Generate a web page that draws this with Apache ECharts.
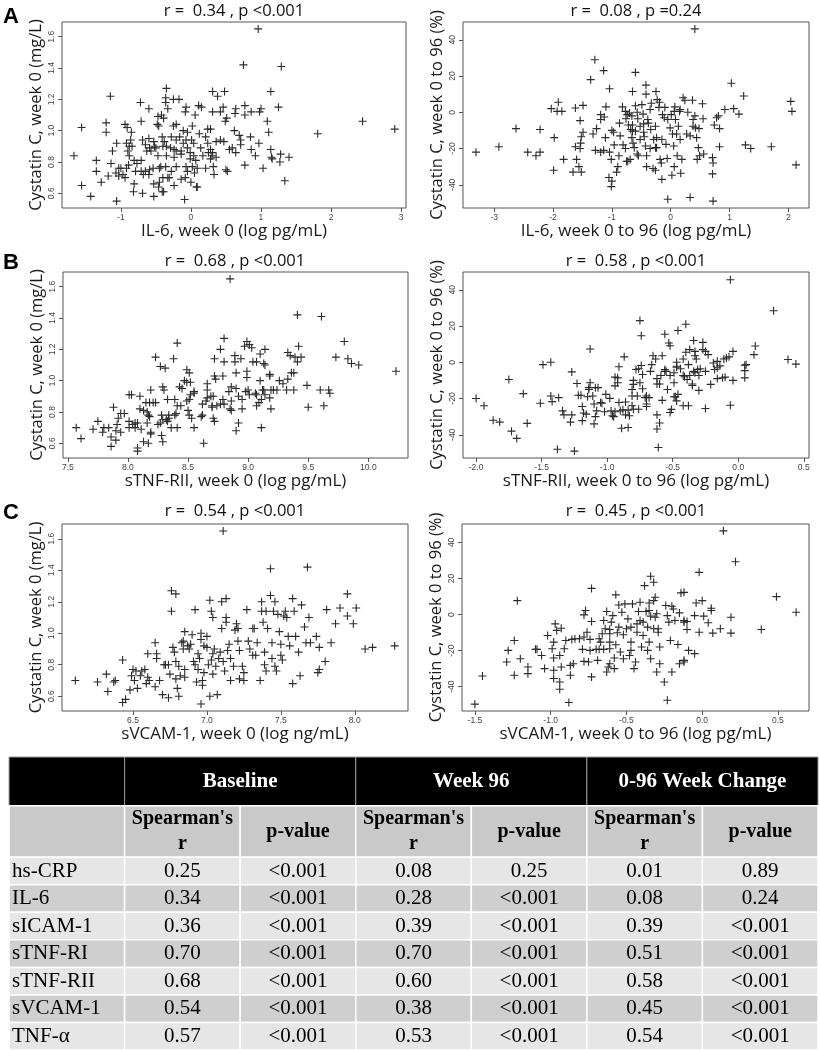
<!DOCTYPE html>
<html><head><meta charset="utf-8">
<script src="https://cdn.jsdelivr.net/npm/echarts@6/dist/echarts.min.js"></script>
<style>html,body{margin:0;padding:0;background:#fff}#c{width:820px;height:1050px}</style>
</head><body><div id="c"></div>
<script>
// ---------------- DATA ----------------
// Panel A: IL-6
const il6BaselinePts = [[0.96,1.65],[0.75,1.42],[1.29,1.41],[1.14,1.25],[-1.15,1.22],[-0.35,1.27],[0.31,1.25],[0.38,1.22],[0.48,1.25],[-0.36,1.21],[-0.25,1.20],[-0.17,1.20],[-0.72,1.18],[-0.60,1.14],[-0.36,1.18],[-0.33,1.14],[-0.07,1.15],[-0.08,1.12],[0.11,1.16],[0.15,1.15],[0.06,1.10],[0.31,1.12],[0.42,1.12],[0.46,1.15],[0.51,1.08],[0.49,1.06],[0.64,1.14],[0.63,1.11],[0.77,1.16],[0.77,1.10],[0.86,1.12],[0.98,1.12],[1.00,1.14],[1.25,1.15],[1.09,1.06],[1.11,0.99],[-0.71,1.06],[-0.47,1.09],[-0.42,1.10],[-0.39,1.08],[-0.48,1.04],[-0.46,1.03],[-1.21,1.05],[-1.21,0.99],[-1.56,1.02],[-0.94,1.04],[-0.91,1.02],[-0.85,0.99],[-0.25,1.03],[-0.21,1.04],[-0.11,1.00],[-0.05,0.99],[0.02,1.03],[0.24,1.01],[0.28,1.01],[0.62,1.00],[0.69,0.97],[0.71,0.94],[0.85,0.96],[0.97,0.92],[0.59,0.89],[0.64,0.86],[0.71,0.91],[0.86,0.88],[0.92,0.84],[1.14,0.88],[1.15,0.83],[1.16,0.82],[1.28,0.85],[1.27,0.80],[1.40,0.83],[1.03,0.76],[0.77,0.78],[1.34,0.68],[1.81,0.98],[2.45,1.06],[2.91,1.01],[-1.67,0.84],[-1.35,0.81],[-1.35,0.74],[-1.56,0.65],[-1.43,0.58],[-1.06,0.55],[-1.28,0.67],[-1.18,0.71],[-1.14,0.79],[-1.12,0.87],[-1.06,0.92],[-0.92,0.92],[-0.88,0.90],[-0.84,0.90],[-0.90,0.87],[-0.88,0.84],[-0.86,0.94],[-1.03,0.76],[-1.00,0.76],[-0.92,0.76],[-0.97,0.72],[-1.07,0.73],[-1.03,0.71],[-0.94,0.70],[-0.89,0.78],[-0.81,0.81],[-0.77,0.79],[-0.71,0.81],[-0.79,0.74],[-0.71,0.74],[-0.65,0.74],[-0.68,0.72],[-0.59,0.75],[-0.54,0.76],[-0.60,0.72],[-0.81,0.66],[-0.82,0.61],[-0.69,0.60],[-0.53,0.58],[-0.41,0.61],[-0.39,0.61],[-0.53,0.66],[-0.45,0.67],[-0.46,0.64],[-0.40,0.70],[-0.33,0.70],[-0.31,0.70],[-0.24,0.65],[-0.14,0.69],[-0.08,0.70],[0.00,0.67],[0.08,0.64],[0.09,0.64],[-0.09,0.56],[-0.69,0.94],[-0.65,0.91],[-0.60,0.95],[-0.53,0.93],[-0.52,0.90],[-0.59,0.89],[-0.63,0.87],[-0.57,0.87],[-0.50,0.89],[-0.47,0.84],[-0.41,0.96],[-0.38,0.93],[-0.35,0.90],[-0.35,0.84],[-0.29,0.89],[-0.28,0.96],[-0.24,0.88],[-0.21,0.87],[-0.24,0.83],[-0.21,0.94],[-0.16,0.96],[-0.11,0.92],[-0.07,0.94],[-0.05,0.89],[0.01,0.94],[0.04,0.92],[-0.01,0.86],[0.04,0.84],[0.07,0.81],[-0.01,0.82],[0.02,0.77],[-0.07,0.77],[0.05,0.73],[-0.21,0.77],[-0.28,0.74],[-0.36,0.77],[-0.45,0.76],[-0.43,0.77],[0.12,0.98],[0.14,0.89],[0.17,0.84],[0.21,0.96],[0.24,0.92],[0.28,0.88],[0.30,0.84],[0.25,0.86],[0.21,0.76],[0.32,0.77],[0.33,0.72],[0.28,0.82],[0.36,0.93],[0.42,0.94],[0.47,0.93],[0.50,0.75],[0.52,0.74],[0.55,0.88],[0.31,0.86],[0.36,0.83],[0.09,0.76],[-0.05,0.74],[-0.14,0.85],[-0.14,0.87],[-0.40,0.90]];
const il6ChangePts = [[0.41,46],[-1.29,29],[-1.14,23],[-1.36,18],[-0.60,22],[-1.04,13],[1.03,16],[1.24,9],[2.04,6],[2.06,0.5],[2.13,-29],[1.71,-19],[1.27,-18],[1.36,-20],[0.92,1.5],[1.07,2],[1.16,-1],[0.81,-2],[0.78,-3],[0.83,-9],[0.74,-7],[0.83,-19],[0.71,-25],[0.72,-28],[0.71,-34],[0.72,-49],[0.33,-47],[-0.05,-48],[-2.63,-9],[-2.22,-9.5],[-2.92,-19],[-3.31,-22],[-2.43,-22],[-2.29,-24],[-2.22,-22],[-2.03,2],[-1.91,5.5],[-1.93,0.5],[-1.85,0.5],[-1.98,-14],[-1.99,-32],[-1.82,-26],[-1.62,2.4],[-1.49,3.8],[-1.54,-4.6],[-1.49,-11],[-1.52,-13.5],[-1.53,-17],[-1.62,-19],[-1.54,-20],[-1.60,-26],[-1.56,-30],[-1.66,-33],[-1.52,-33],[-1.32,-12],[-1.26,-9],[-1.28,-21],[-1.19,-4],[-1.19,-1.3],[-1.13,-2.6],[-1.19,-22],[-1.11,-14],[-1.10,3],[-1.04,-22],[-1.01,-26],[-1.00,-10],[-0.97,-11],[-0.96,-18],[-1.05,-36],[-1.00,-38],[-1.01,-41],[-0.92,-33],[-0.90,-30],[-0.88,-24],[-0.86,-13],[-0.87,-6],[-0.82,3],[-0.77,0.5],[-0.76,-3.6],[-0.74,-1.3],[-0.81,-18],[-0.77,-20],[-0.75,-27],[-0.73,-27],[-0.69,-26],[-0.72,-7],[-0.68,-9.5],[-0.70,-0.4],[-0.66,-2],[-0.65,11.5],[-0.65,-7],[-0.65,-10.4],[-0.66,-14],[-0.64,-17],[-0.62,-19.5],[-0.60,3.6],[-0.57,0],[-0.56,-3.6],[-0.57,-23],[-0.55,-24],[-0.52,-7.7],[-0.49,4.2],[-0.47,-1],[-0.46,-11],[-0.45,-13.5],[-0.43,-18.6],[-0.42,15],[-0.42,10],[-0.39,-4],[-0.38,-6],[-0.41,-24],[-0.41,-30],[-0.35,-20],[-0.34,-9.5],[-0.33,5],[-0.30,-31],[-0.26,-32],[-0.29,-15],[-0.26,-7.7],[-0.25,11.5],[-0.23,7],[-0.20,2.7],[-0.19,5.5],[-0.24,-19.5],[-0.18,-26],[-0.16,-28],[-0.15,-15],[-0.15,-37],[-0.14,-1.3],[-0.11,-3],[-0.08,-17.7],[-0.06,-25.5],[-0.05,-4],[-0.01,-8.6],[0.01,-1.3],[0.02,-34.7],[0.03,-12],[0.05,-18.6],[0.06,-30],[0.06,0.5],[0.07,3],[0.08,-4],[0.10,-12],[0.11,-24],[0.15,0.5],[0.13,-7.7],[0.16,-15],[0.17,-33.6],[0.19,-26],[0.21,8],[0.24,6.6],[0.29,0],[0.27,-12],[0.33,-13],[0.37,6.6],[0.38,-4],[0.41,-2],[0.42,-8.6],[0.44,-14],[0.47,-19.5],[0.45,-26],[0.49,-24],[0.54,4.7],[0.55,-3.6],[0.56,-23],[0.48,-9],[0.38,-7.7],[-1.14,-21],[-0.46,-6.4],[-0.35,1.5],[-0.10,2.7],[0.16,1.5],[-0.24,-14],[-0.60,-10.4],[-0.52,-15],[-0.26,-19.5]];
// Panel B: sTNF-RII
const tnfr2BaselinePts = [[8.85,1.65],[9.41,1.42],[9.61,1.41],[9.80,1.25],[8.80,1.27],[8.41,1.24],[8.99,1.25],[9.01,1.23],[8.97,1.22],[9.03,1.21],[9.14,1.20],[9.10,1.17],[8.77,1.20],[8.23,1.15],[8.38,1.14],[8.27,1.09],[8.31,1.08],[8.72,1.14],[8.80,1.12],[8.89,1.16],[8.89,1.12],[8.94,1.14],[9.04,1.12],[9.07,1.12],[9.13,1.11],[9.14,1.10],[9.33,1.18],[9.35,1.16],[9.39,1.15],[9.42,1.22],[9.41,1.12],[9.44,1.15],[9.73,1.15],[9.83,1.14],[9.86,1.11],[9.92,1.10],[10.23,1.06],[8.49,1.07],[8.51,1.05],[8.72,1.03],[8.73,1.01],[8.79,1.03],[8.90,1.05],[8.99,1.06],[8.99,1.02],[9.10,1.00],[9.18,1.04],[9.18,1.03],[9.26,1.00],[9.29,0.98],[9.33,1.01],[9.36,1.05],[9.38,1.05],[9.32,0.94],[9.38,0.94],[9.49,0.97],[9.60,0.94],[9.67,0.94],[9.68,0.92],[9.50,0.83],[9.63,0.84],[8.47,1.00],[8.49,0.99],[8.52,0.99],[8.43,0.96],[8.45,0.95],[8.29,0.96],[8.30,0.94],[8.19,0.94],[8.03,0.91],[8.01,0.91],[8.10,0.90],[7.88,0.83],[7.75,0.74],[7.57,0.70],[7.61,0.63],[7.71,0.69],[7.79,0.67],[7.80,0.70],[7.84,0.70],[7.86,0.64],[7.90,0.68],[7.91,0.72],[7.92,0.76],[7.94,0.79],[7.97,0.79],[7.94,0.67],[7.90,0.62],[7.86,0.58],[8.01,0.74],[8.01,0.70],[8.04,0.72],[8.06,0.73],[8.08,0.73],[8.06,0.70],[8.11,0.69],[8.10,0.82],[8.13,0.81],[8.16,0.80],[8.18,0.86],[8.15,0.86],[8.21,0.86],[8.23,0.86],[8.17,0.78],[8.18,0.77],[8.16,0.73],[8.19,0.67],[8.19,0.66],[8.17,0.60],[8.13,0.61],[8.08,0.57],[8.08,0.55],[8.28,0.65],[8.29,0.61],[8.25,0.72],[8.27,0.73],[8.29,0.75],[8.32,0.75],[8.33,0.74],[8.34,0.76],[8.36,0.70],[8.41,0.70],[8.28,0.78],[8.34,0.78],[8.39,0.78],[8.40,0.79],[8.33,0.88],[8.39,0.88],[8.41,0.84],[8.44,0.84],[8.49,0.87],[8.51,0.88],[8.52,0.91],[8.55,0.93],[8.55,0.92],[8.50,0.81],[8.51,0.78],[8.53,0.76],[8.55,0.70],[8.63,0.60],[8.61,0.77],[8.62,0.78],[8.62,0.85],[8.65,0.87],[8.66,0.89],[8.66,0.94],[8.66,0.98],[8.69,0.90],[8.71,0.90],[8.70,0.84],[8.70,0.83],[8.72,0.74],[8.71,0.76],[8.74,0.84],[8.77,0.85],[8.79,0.88],[8.80,0.85],[8.84,0.93],[8.86,0.96],[8.90,0.95],[8.86,0.87],[8.85,0.82],[8.86,0.81],[8.92,0.73],[8.90,0.68],[8.95,0.82],[8.95,0.88],[8.98,0.93],[9.00,0.94],[9.01,0.91],[9.06,0.92],[9.07,0.91],[9.07,0.84],[9.09,0.86],[9.11,0.88],[9.12,0.94],[9.13,0.94],[9.14,0.91],[9.11,0.70],[9.19,0.94],[9.18,0.89],[9.19,0.82],[9.21,0.94],[9.24,0.94],[8.92,0.90]];
const tnfr2ChangePts = [[-0.06,45.5],[0.27,28.4],[-0.75,23],[-0.74,14.6],[-0.40,21],[-0.46,17.5],[-0.56,15.5],[-0.53,10.6],[-0.52,9.1],[-0.34,12],[-0.27,11],[-0.37,7],[-0.33,6],[-0.27,7],[-0.25,6],[-0.33,3.6],[-0.32,1.8],[-0.40,5.5],[-0.42,1.8],[-0.47,0],[-0.47,-2.7],[-0.56,-4],[-0.55,-5],[-0.52,-7.3],[-0.49,-11.3],[-0.44,-3.6],[-0.42,-7.3],[-0.41,-8],[-0.37,-7.3],[-0.34,-5],[-0.33,-5.8],[-0.31,-4],[-0.30,-7.3],[-0.29,-3.6],[-0.25,-5],[-0.35,-12],[-0.30,-15.5],[-0.25,-25.5],[-0.16,0.5],[-0.16,-3],[-0.14,-2],[-0.11,1.8],[-0.09,2.4],[-0.07,3],[-0.04,6],[-0.16,-9],[-0.12,-8.6],[-0.10,-8.2],[-0.04,-10],[-0.06,-23.7],[0.05,-4.6],[0.05,-1.6],[0.05,-8.6],[0.06,-1.3],[0.12,4.2],[0.13,9],[0.38,1.5],[0.44,-1],[-2.00,-20],[-1.94,-24],[-1.87,-32],[-1.82,-33],[-1.73,-38],[-1.69,-42],[-1.75,-9.5],[-1.64,-17.3],[-1.61,-33.7],[-1.51,-22.6],[-1.49,-1.3],[-1.43,0],[-1.43,-18.6],[-1.42,-21.7],[-1.37,-19.5],[-1.38,-48],[-1.25,-49],[-1.34,-26.8],[-1.33,-29],[-1.27,-29],[-1.28,-33],[-1.27,-5.3],[-1.23,-11.7],[-1.22,-18.2],[-1.20,-18.2],[-1.19,-24.4],[-1.18,-28],[-1.19,-32.2],[-1.15,-19],[-1.16,-28.6],[-1.13,7.3],[-1.14,-14],[-1.14,-15],[-1.13,-11.3],[-1.11,-18.6],[-1.09,-14],[-1.07,-14],[-1.10,-23],[-1.10,-34],[-1.09,-30],[-1.08,-26.8],[-1.05,-22.2],[-1.04,-22.6],[-1.01,-17.7],[-0.98,-19.9],[-1.02,-27.3],[-0.97,-26.8],[-0.96,-29.5],[-0.95,-30],[-0.94,-27.3],[-0.90,-26.8],[-0.91,-22.2],[-0.88,-26.2],[-0.94,-13],[-0.92,-11.3],[-0.87,3],[-0.91,-2.5],[-0.94,-8.2],[-0.92,-8.6],[-0.86,-29],[-0.83,-29.5],[-0.89,-36.4],[-0.84,-36],[-0.86,-21.9],[-0.84,-26.4],[-0.81,-24],[-0.80,-25.9],[-0.81,-18.6],[-0.81,-15],[-0.80,-10],[-0.78,-4],[-0.76,-3.6],[-0.74,-1.8],[-0.75,-11.3],[-0.73,-14.6],[-0.71,-19.5],[-0.70,-18.6],[-0.68,-19.5],[-0.70,-23],[-0.67,-5],[-0.66,-1.3],[-0.65,3.6],[-0.63,1.8],[-0.62,-9],[-0.62,-12],[-0.60,-12],[-0.62,-29],[-0.62,-36.8],[-0.60,-33.5],[-0.61,-47],[-0.58,3.6],[-0.58,-21],[-0.56,-5],[-0.54,-15],[-0.52,-27.7],[-0.51,-26],[-0.49,-19],[-0.48,-19],[-0.47,-21.3],[-0.46,-17.7],[-0.47,-2.2],[-0.42,-24],[-0.38,-24],[-0.35,-12.8],[-0.39,-9.5],[-0.19,-0.4],[-0.18,-4],[-0.21,-12.2],[-0.23,4.2],[-0.38,-1.3],[-0.49,-5.8],[-0.59,-7.3],[-0.73,-6.7],[-0.80,-12.2],[-0.77,-18.6],[-0.70,-24.4],[-0.76,-25.9]];
// Panel C: sVCAM-1
const vcamBaselinePts = [[7.11,1.65],[7.43,1.41],[7.68,1.42],[6.11,0.70],[6.26,0.69],[6.32,0.74],[6.33,0.63],[6.37,0.69],[6.38,0.70],[6.43,0.83],[6.43,0.56],[6.45,0.58],[6.48,0.64],[6.49,0.73],[6.50,0.77],[6.51,0.70],[6.52,0.76],[6.53,0.65],[6.55,0.73],[6.56,0.76],[6.58,0.77],[6.59,0.68],[6.60,0.72],[6.61,0.70],[6.60,0.87],[6.65,0.94],[6.65,0.66],[6.66,0.87],[6.66,0.84],[6.68,0.70],[6.71,0.80],[6.72,0.80],[6.74,0.80],[6.70,0.61],[6.74,0.59],[6.75,0.74],[6.76,1.27],[6.79,1.25],[6.76,1.14],[6.77,0.91],[6.78,0.88],[6.79,0.82],[6.79,0.71],[6.80,0.65],[6.81,0.79],[6.82,0.73],[6.81,0.60],[6.83,0.94],[6.84,0.95],[6.85,1.01],[6.84,0.90],[6.85,0.77],[6.85,0.72],[6.87,0.92],[6.88,0.90],[6.89,0.93],[6.90,0.99],[6.92,1.15],[6.91,0.82],[6.92,0.80],[6.93,0.69],[6.94,0.77],[6.94,0.87],[6.95,0.84],[6.96,1.00],[6.96,0.96],[6.97,0.70],[6.98,0.75],[6.98,0.92],[6.97,0.67],[6.96,0.55],[7.00,0.91],[7.00,0.98],[7.01,0.80],[7.02,1.21],[7.03,1.14],[7.04,1.10],[7.03,0.83],[7.04,0.74],[7.04,0.87],[7.02,0.60],[7.05,0.90],[7.06,0.79],[7.07,0.61],[7.08,0.84],[7.09,0.88],[7.10,1.20],[7.11,0.82],[7.12,0.76],[7.13,1.22],[7.13,1.07],[7.13,1.10],[7.10,1.03],[7.14,0.89],[7.15,0.93],[7.16,0.84],[7.16,0.70],[7.18,0.79],[7.19,1.02],[7.20,1.06],[7.21,1.03],[7.21,0.95],[7.22,0.89],[7.22,0.71],[7.24,0.79],[7.25,0.75],[7.25,0.70],[7.27,1.15],[7.28,0.95],[7.29,0.90],[7.31,0.86],[7.31,1.03],[7.32,1.03],[7.33,0.86],[7.34,0.94],[7.36,0.70],[7.37,1.20],[7.37,1.14],[7.38,1.07],[7.39,0.88],[7.39,0.80],[7.40,0.76],[7.40,1.14],[7.41,1.03],[7.44,0.94],[7.43,1.24],[7.45,1.14],[7.46,1.20],[7.44,0.84],[7.46,0.79],[7.47,0.76],[7.48,1.12],[7.49,1.01],[7.50,0.93],[7.50,0.86],[7.51,0.83],[7.52,1.11],[7.53,1.14],[7.54,1.10],[7.55,0.98],[7.56,0.92],[7.58,0.68],[7.58,1.22],[7.59,1.14],[7.60,0.98],[7.62,0.88],[7.63,0.73],[7.64,1.18],[7.66,1.04],[7.67,0.94],[7.69,1.10],[7.70,0.94],[7.74,0.98],[7.75,0.75],[7.76,0.77],[7.76,0.91],[7.80,0.82],[7.81,1.15],[7.84,0.94],[7.87,1.06],[7.90,1.16],[7.95,1.25],[7.95,1.11],[7.99,1.06],[8.01,1.16],[8.07,0.90],[8.12,0.91],[8.27,0.92]];
const vcamChangePts = [[0.14,46.4],[0.22,29.3],[-0.02,23.4],[0.49,9.9],[0.62,1.3],[0.39,-8.3],[0.19,-1.5],[0.19,-10.3],[0.12,-7.9],[0.07,-10.3],[-0.02,-9.8],[0.06,3.5],[0.06,2.2],[0.04,-4.6],[0.01,-0.9],[-0.04,6.4],[-0.05,-0.6],[-0.05,-21.7],[-0.10,-8.3],[-0.09,-19.9],[-0.10,-3.9],[-0.15,0.9],[-0.14,12],[-0.12,12.3],[-0.12,-3.3],[-0.12,-4.2],[-0.12,-25.4],[-0.12,-26.3],[-0.15,-27.3],[-0.16,-16.6],[-0.20,-31.9],[-0.18,-3.3],[-0.19,3.1],[-0.20,4.6],[-0.21,-14.4],[-0.22,-4.2],[-0.23,-47.5],[-0.24,5],[-0.23,-0.6],[-0.25,-37.4],[-0.28,-27.3],[-0.28,-18],[-0.29,-7.9],[-0.29,-9.8],[-0.31,-1.5],[-0.30,0.4],[-0.30,-31.9],[-0.31,9.6],[-0.32,17.9],[-0.32,7.7],[-0.34,21.2],[-0.35,6.4],[-0.35,2.2],[-0.34,-0.9],[-0.36,-7],[-0.35,-15.3],[-0.36,-19.9],[-0.34,-24.5],[-0.38,16],[-0.37,1.7],[-0.39,-4.2],[-0.39,-11.6],[-0.40,-18],[-0.41,6.8],[-0.42,1.7],[-0.43,-5.2],[-0.43,-9.8],[-0.44,-26.3],[-0.45,-30],[-0.46,5.9],[-0.47,-15.3],[-0.47,-19.9],[-0.48,-22.7],[-0.49,-2.4],[-0.50,-7.9],[-0.51,5.9],[-0.52,-24.5],[-0.53,1.3],[-0.54,-20.8],[-0.55,5.3],[-0.55,-7],[-0.56,-10.1],[-0.57,10.9],[-0.57,-16.8],[-0.58,-24.1],[-0.58,-30],[-0.59,-0.6],[-0.60,-4.2],[-0.61,-10.7],[-0.61,-15.3],[-0.61,-19],[-0.61,-27.3],[-0.62,-29.1],[-0.63,1.7],[-0.63,-31.9],[-0.64,-7.9],[-0.65,-19.3],[-0.65,-3.3],[-0.66,-10.7],[-0.67,-15.3],[-0.68,-13.4],[-0.68,-19.3],[-0.69,-25.4],[-0.70,-19.3],[-0.73,-3.9],[-0.73,14.5],[-0.74,-13.8],[-0.73,-34.6],[-0.74,-19.9],[-0.75,-26.3],[-0.76,-9.8],[-0.77,2.2],[-0.78,-0.2],[-0.78,-12.5],[-0.78,-26],[-0.79,-19.3],[-0.81,-13.4],[-0.84,-13.4],[-0.85,-27.3],[-0.86,-13.8],[-0.87,-28.2],[-0.87,-33.7],[-0.88,-48.8],[-0.90,-14.4],[-0.91,-19],[-0.93,-29.1],[-0.93,-7.6],[-0.94,-22.7],[-0.94,-37.4],[-0.94,-41.4],[-0.96,-8.8],[-0.97,-5.2],[-0.98,-30.9],[-0.98,-24.1],[-0.98,-35.5],[-0.98,-15.3],[-0.99,-19],[-1.02,-11.6],[-1.04,-30],[-1.06,-22.7],[-1.09,-19.3],[-1.10,-19.3],[-1.15,-29.1],[-1.15,-32.8],[-1.20,-24.5],[-1.22,7.7],[-1.24,-14.4],[-1.24,-33.7],[-1.28,-19.9],[-1.29,-26.3],[-1.45,-34.1],[-1.50,-49.7],[0.00,7.7],[-0.41,-3.3],[-0.47,-7],[-0.32,-7.9],[-0.52,-11.2],[-0.61,-8.3]];

// Tick labels
const ticksIL6Base = [-1, 0, 1, 2, 3];
const ticksIL6Change = [-3, -2, -1, 0, 1, 2];
const ticksTNFR2Base = [7.5, 8.0, 8.5, 9.0, 9.5, 10.0];
const ticksTNFR2Change = [-2.0, -1.5, -1.0, -0.5, 0.0, 0.5];
const ticksVCAMBase = [6.5, 7.0, 7.5, 8.0];
const ticksVCAMChange = [-1.5, -1.0, -0.5, 0.0, 0.5];
const ticksCysBase = [0.6, 0.8, 1.0, 1.2, 1.4, 1.6];
const ticksCysChange = [-40, -20, 0, 20, 40];

// Panel titles
const panelTitles = ['r =  0.34 , p <0.001', 'r =  0.08 , p =0.24', 'r =  0.68 , p <0.001', 'r =  0.58 , p <0.001', 'r =  0.54 , p <0.001', 'r =  0.45 , p <0.001'];
const xNames = ['IL-6, week 0 (log pg/mL)', 'IL-6, week 0 to 96 (log pg/mL)', 'sTNF-RII, week 0 (log pg/mL)', 'sTNF-RII, week 0 to 96 (log pg/mL)', 'sVCAM-1, week 0 (log ng/mL)', 'sVCAM-1, week 0 to 96 (log pg/mL)'];
const yNameBase = 'Cystatin C, week 0 (mg/L)';
const yNameChange = 'Cystatin C, week 0 to 96 (%)';
const panelLetters = ['A', 'B', 'C'];

// Table
const tableGroups = ['Baseline', 'Week 96', '0-96 Week Change'];
const tableSubHeads = ["Spearman's\nr", 'p-value'];
const markers = ['hs-CRP', 'IL-6', 'sICAM-1', 'sTNF-RI', 'sTNF-RII', 'sVCAM-1', 'TNF-α'];
const baselineR = ['0.25', '0.34', '0.36', '0.70', '0.68', '0.54', '0.57'];
const baselineP = ['<0.001', '<0.001', '<0.001', '<0.001', '<0.001', '<0.001', '<0.001'];
const week96R = ['0.08', '0.28', '0.39', '0.70', '0.60', '0.38', '0.53'];
const week96P = ['0.25', '<0.001', '<0.001', '<0.001', '<0.001', '<0.001', '<0.001'];
const changeR = ['0.01', '0.08', '0.39', '0.51', '0.58', '0.45', '0.54'];
const changeP = ['0.89', '0.24', '<0.001', '<0.001', '<0.001', '<0.001', '<0.001'];

// ---------------- LAYOUT ----------------
const SANS = 'Open Sans';
const panels = [
  {pts: il6BaselinePts, grid: {left: 62, top: 22, width: 344, height: 186}, x: [-1.84, 3.07], y: [0.506, 1.694], xt: ticksIL6Base, yt: ticksCysBase, xd: 0, yd: 1, yn: yNameBase, tx: 234, ty: 11},
  {pts: il6ChangePts, grid: {left: 463, top: 22, width: 346, height: 186}, x: [-3.53, 2.35], y: [-52.8, 49.8], xt: ticksIL6Change, yt: ticksCysChange, xd: 0, yd: 0, yn: yNameChange, tx: 636, ty: 11},
  {pts: tnfr2BaselinePts, grid: {left: 63, top: 272, width: 345, height: 186}, x: [7.46, 10.33], y: [0.506, 1.694], xt: ticksTNFR2Base, yt: ticksCysBase, xd: 1, yd: 1, yn: yNameBase, tx: 235, ty: 261},
  {pts: tnfr2ChangePts, grid: {left: 463, top: 272, width: 346, height: 186}, x: [-2.10, 0.54], y: [-52.8, 49.8], xt: ticksTNFR2Change, yt: ticksCysChange, xd: 1, yd: 0, yn: yNameChange, tx: 636, ty: 261},
  {pts: vcamBaselinePts, grid: {left: 62, top: 524, width: 346, height: 187}, x: [6.02, 8.36], y: [0.506, 1.694], xt: ticksVCAMBase, yt: ticksCysBase, xd: 1, yd: 1, yn: yNameBase, tx: 235, ty: 511},
  {pts: vcamChangePts, grid: {left: 462, top: 524, width: 347, height: 187}, x: [-1.585, 0.705], y: [-53.5, 50.2], xt: ticksVCAMChange, yt: ticksCysChange, xd: 1, yd: 0, yn: yNameChange, tx: 636, ty: 511}
];
const letterPos = [[11, 17], [11, 263], [11, 513]];
const PLUS = 'path://M-1.1,-8H1.1V-1.1H8V1.1H1.1V8H-1.1V1.1H-8V-1.1H-1.1Z';

const grids = [], xAxes = [], yAxes = [], series = [], graphics = [];
panels.forEach((p, i) => {
  grids.push(Object.assign({show: true, borderColor: '#555', borderWidth: 1, backgroundColor: 'transparent'}, p.grid));
  xAxes.push({
    type: 'value', gridIndex: i, min: p.x[0], max: p.x[1], position: 'bottom',
    axisLine: {show: false, onZero: false}, splitLine: {show: false},
    axisTick: {show: true, length: 4, lineStyle: {color: '#555'}, customValues: p.xt},
    axisLabel: {customValues: p.xt, formatter: v => Number(v).toFixed(p.xd), fontSize: 8.5, color: '#444', margin: 5, fontFamily: 'Liberation Sans'},
    name: xNames[i], nameLocation: 'middle', nameGap: 11,
    nameTextStyle: {fontSize: 17, color: '#1a1a1a', fontFamily: SANS}
  });
  yAxes.push({
    type: 'value', gridIndex: i, min: p.y[0], max: p.y[1], position: 'left',
    axisLine: {show: false, onZero: false}, splitLine: {show: false},
    axisTick: {show: true, length: 4, lineStyle: {color: '#555'}, customValues: p.yt},
    axisLabel: {customValues: p.yt, formatter: v => Number(v).toFixed(p.yd), rotate: 90, fontSize: 8.5, color: '#444', margin: 6, fontFamily: 'Liberation Sans'},
    name: p.yn, nameLocation: 'middle', nameGap: 17,
    nameTextStyle: {fontSize: 16.5, color: '#1a1a1a', fontFamily: SANS}
  });
  series.push({
    type: 'scatter', xAxisIndex: i, yAxisIndex: i, data: p.pts,
    symbol: PLUS, symbolSize: 8, itemStyle: {color: '#2b2b2b', opacity: 1},
    silent: true, animation: false
  });
  graphics.push({type: 'text', x: p.tx, y: p.ty, style: {text: panelTitles[i], x: 0, y: 0, align: 'center', verticalAlign: 'middle', fontSize: 16.5, fontFamily: SANS, fill: '#111'}});
});
panelLetters.forEach((L, i) => {
  graphics.push({type: 'text', x: letterPos[i][0], y: letterPos[i][1], style: {text: L, x: 0, y: 0, align: 'center', verticalAlign: 'middle', fontSize: 22, fontWeight: 'bold', fontFamily: 'Liberation Sans', fill: '#000'}});
});

// ---- table built with a custom series on its own grid ----
const HEAD_H = 1.77, SUB_H = 1.87;
const cells = [];
cells.push({v: [0, 1, 0, HEAD_H], kind: 'head', text: ''});
tableGroups.forEach((g, i) => cells.push({v: [1 + 2 * i, 3 + 2 * i, 0, HEAD_H], kind: 'head', text: g}));
cells.push({v: [0, 1, HEAD_H, HEAD_H + SUB_H], kind: 'sub', text: ''});
tableGroups.forEach((g, i) => {
  tableSubHeads.forEach((s, j) => cells.push({v: [1 + 2 * i + j, 2 + 2 * i + j, HEAD_H, HEAD_H + SUB_H], kind: 'sub', text: s}));
});
const valueCols = [baselineR, baselineP, week96R, week96P, changeR, changeP];
markers.forEach((m, r) => {
  const y0 = HEAD_H + SUB_H + r, kind = r % 2 ? 'dark' : 'light';
  cells.push({v: [0, 1, y0, y0 + 1], kind, text: m, left: true});
  valueCols.forEach((col, c) => cells.push({v: [1 + c, 2 + c, y0, y0 + 1], kind, text: col[r]}));
});
const cellStyle = {
  head: {fill: '#000', stroke: '#9a9a9a', lw: 1, color: '#fff', weight: 'bold', size: 21},
  sub: {fill: '#c9c9c9', stroke: '#fff', lw: 1.5, color: '#000', weight: 'bold', size: 20},
  light: {fill: '#e6e6e6', stroke: '#fff', lw: 1.5, color: '#000', weight: 'normal', size: 21},
  dark: {fill: '#cfcfcf', stroke: '#fff', lw: 1.5, color: '#000', weight: 'normal', size: 21}
};
grids.push({left: 5, top: 757, width: 813, height: 293, show: false});
xAxes.push({type: 'value', gridIndex: 6, min: -0.035, max: 7, show: false});
yAxes.push({type: 'value', gridIndex: 6, min: 0, max: HEAD_H + SUB_H + markers.length, inverse: true, show: false});
series.push({
  type: 'custom', coordinateSystem: 'cartesian2d', xAxisIndex: 6, yAxisIndex: 6,
  data: cells.map(c => c.v), encode: {x: [0, 1], y: [2, 3]}, silent: true, animation: false, clip: false,
  renderItem: function (params, api) {
    const c = cells[params.dataIndex];
    const p0 = api.coord([api.value(0), api.value(2)]);
    const p1 = api.coord([api.value(1), api.value(3)]);
    const x = p0[0], y = Math.min(p0[1], p1[1]), w = p1[0] - p0[0], h = Math.abs(p1[1] - p0[1]);
    const st = cellStyle[c.kind];
    return {type: 'group', children: [
      {type: 'rect', shape: {x, y, width: w, height: h}, style: {fill: st.fill, stroke: st.stroke, lineWidth: st.lw}},
      {type: 'text', style: {text: c.text, x: c.left ? x + 3 : x + w / 2, y: y + h / 2, align: c.left ? 'left' : 'center', verticalAlign: 'middle',
        fill: st.color, fontFamily: 'Liberation Serif', fontSize: st.size, fontWeight: st.weight, lineHeight: 25}}
    ]};
  }
});

const chart = echarts.init(document.getElementById('c'), null, {renderer: 'canvas', width: 820, height: 1050});
chart.setOption({
  animation: false, backgroundColor: '#fff',
  grid: grids, xAxis: xAxes, yAxis: yAxes, series, graphic: graphics
});
</script></body></html>
